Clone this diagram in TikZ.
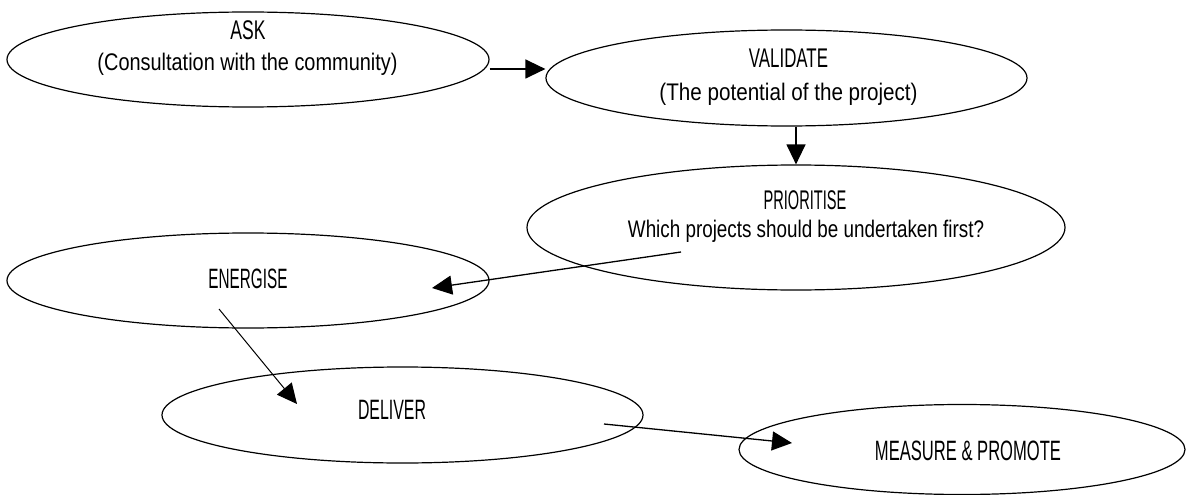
\documentclass[tikz,border=0pt]{standalone}
\usepackage{fontspec}
\setmainfont{Liberation Sans}
\usepackage{graphicx}
\usetikzlibrary{arrows.meta,shapes.geometric}
\newcommand{\sxt}[2]{\scalebox{#1}[1]{#2}}
\begin{document}
\begin{tikzpicture}[x=1pt,y=-1pt,
  oval/.style={ellipse,draw,line width=1.2pt,inner sep=0pt},
  lbl/.style={anchor=base,inner sep=0pt},
  bigt/.style={font=\fontsize{27}{32}\selectfont},
  hugt/.style={font=\fontsize{28}{32}\selectfont},
  smallt/.style={font=\fontsize{24}{28}\selectfont},
  conn/.style={line width=1.3pt,-{Triangle[length=20pt,width=19pt]}},
]
\useasboundingbox (0,0) rectangle (1187,495);

% ellipses
\node[oval,minimum width=482pt,minimum height=95pt] (ask) at (248,59.5) {};
\node[oval,minimum width=481pt,minimum height=96pt] (validate) at (786.5,78) {};
\node[oval,minimum width=538pt,minimum height=125pt] (prioritise) at (796,227.5) {};
\node[oval,minimum width=482pt,minimum height=95pt] (energise) at (248,280.5) {};
\node[oval,minimum width=481pt,minimum height=96pt] (deliver) at (402.5,415) {};
\node[oval,minimum width=446pt,minimum height=90pt] (measure) at (962,449.5) {};

% texts
\node[lbl,bigt] (askA) at (248,39.5) {\sxt{0.65}{ASK}};
\node[lbl,smallt] (askB) at (247.5,70.5) {\sxt{0.83}{(Consultation with the community)}};
\node[lbl,bigt] (valA) at (788.5,67) {\sxt{0.625}{VALIDATE}};
\node[lbl,smallt] (valB) at (788.5,100) {\sxt{0.86}{(The potential of the project)}};
\node[lbl,bigt] (priA) at (805,209) {\sxt{0.54}{PRIORITISE}};
\node[lbl,smallt] (priB) at (806,237) {\sxt{0.785}{Which projects should be undertaken first?}};
\node[lbl,hugt] (eneA) at (248,288) {\sxt{0.546}{ENERGISE}};
\node[lbl,hugt] (delA) at (392,419) {\sxt{0.567}{DELIVER}};
\node[lbl,hugt] (meaA) at (968,460) {\sxt{0.592}{MEASURE \& PROMOTE}};

% connectors
\draw[conn] ([yshift=-9.5pt]ask.east) -- ([yshift=9pt]validate.west);
\draw[conn] (prioritise.north |- validate.south) -- (prioritise.north);
\draw[conn] ([shift={(-115pt,-24.5pt)}]prioritise.center) -- ([shift={(184pt,-7.5pt)}]energise.center);
\draw[conn,line width=1pt] ([shift={(-29pt,-28.5pt)}]energise.center) -- ([shift={(-105.5pt,11pt)}]deliver.center);
\draw[conn] ([shift={(201.5pt,-9pt)}]deliver.center) -- ([shift={(-170pt,6.5pt)}]measure.center);
\end{tikzpicture}
\end{document}
